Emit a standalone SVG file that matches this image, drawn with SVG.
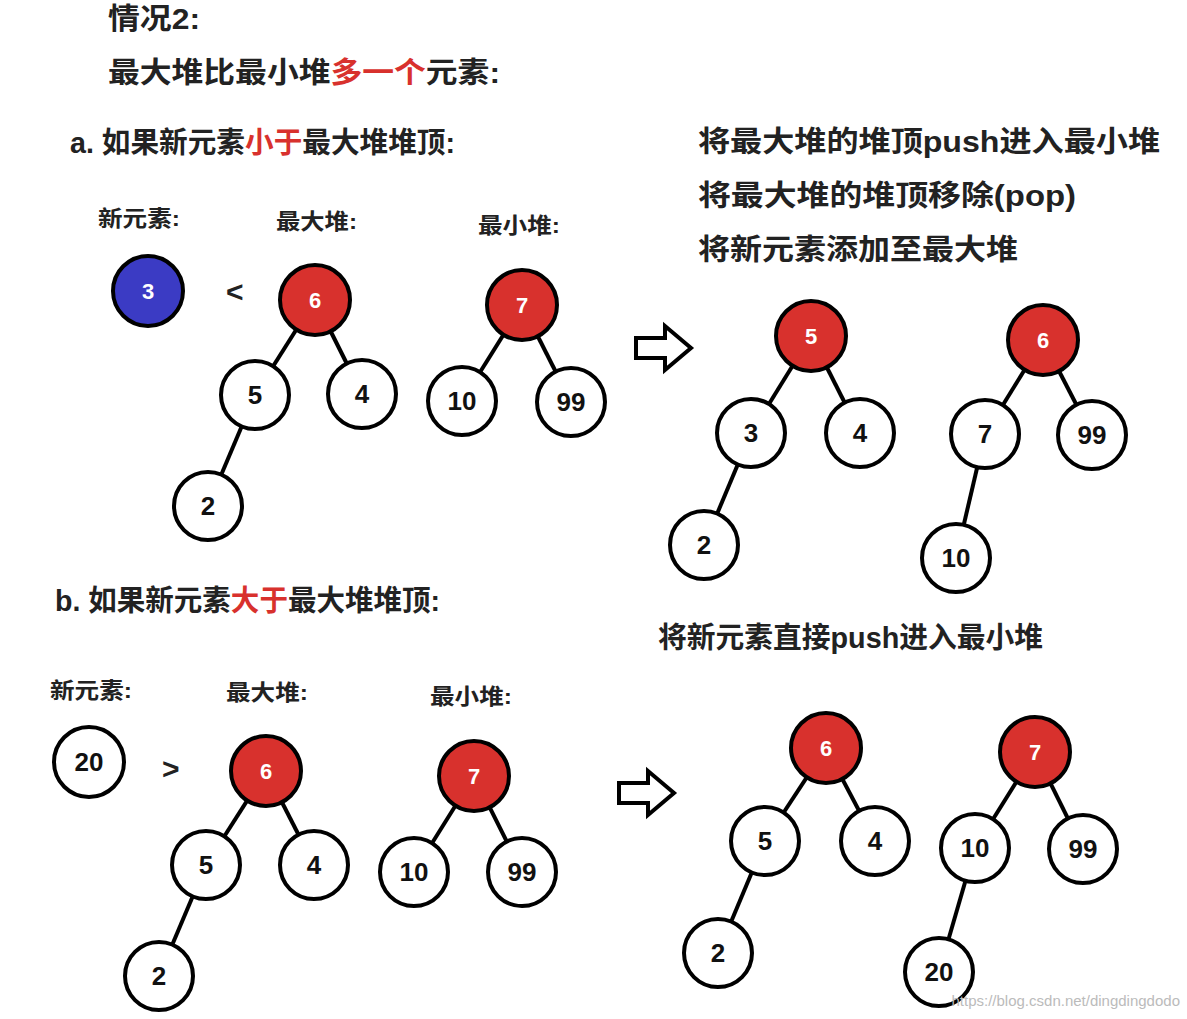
<svg xmlns="http://www.w3.org/2000/svg" width="1187" height="1019" viewBox="0 0 1187 1019">
<style>
.t{font-family:"Liberation Sans","Noto Sans CJK SC",sans-serif;font-weight:bold;fill:#222}
.h{font-size:29px}.s{font-size:22px}
.r{fill:#d8312d}
.n circle{stroke:#000;stroke-width:4;fill:#fff}
.n circle.red{fill:#d8312d}
.n circle.blue{fill:#3b3bc4}
.n text{font-family:"Liberation Sans",sans-serif;font-weight:bold;font-size:26px;text-anchor:middle;fill:#111}
.n text.w{fill:#fff;font-size:22px}
#edges line{stroke:#000;stroke-width:4}
.arr{fill:#fff;stroke:#000;stroke-width:4;stroke-linejoin:miter}
</style>
<rect width="1187" height="1019" fill="#fff"/>
<text class="t h" x="108" y="29" textLength="92" lengthAdjust="spacingAndGlyphs">情况2:</text>
<text class="t h" x="108" y="83" textLength="392" lengthAdjust="spacingAndGlyphs">最大堆比最小堆<tspan class="r">多一个</tspan>元素:</text>
<text class="t h" x="70" y="153" textLength="385" lengthAdjust="spacingAndGlyphs">a. 如果新元素<tspan class="r">小于</tspan>最大堆堆顶:</text>
<text class="t h" x="698" y="152" textLength="462" lengthAdjust="spacingAndGlyphs">将最大堆的堆顶push进入最小堆</text>
<text class="t h" x="698" y="206" textLength="378" lengthAdjust="spacingAndGlyphs">将最大堆的堆顶移除(pop)</text>
<text class="t h" x="698" y="260" textLength="320" lengthAdjust="spacingAndGlyphs">将新元素添加至最大堆</text>
<text class="t s" x="98" y="226" textLength="82" lengthAdjust="spacingAndGlyphs">新元素:</text>
<text class="t s" x="276" y="229" textLength="81" lengthAdjust="spacingAndGlyphs">最大堆:</text>
<text class="t s" x="478" y="233" textLength="82" lengthAdjust="spacingAndGlyphs">最小堆:</text>
<text class="t h" x="55" y="611" textLength="385" lengthAdjust="spacingAndGlyphs">b. 如果新元素<tspan class="r">大于</tspan>最大堆堆顶:</text>
<text class="t h" x="658" y="648" textLength="385" lengthAdjust="spacingAndGlyphs">将新元素直接push进入最小堆</text>
<text class="t s" x="50" y="698" textLength="82" lengthAdjust="spacingAndGlyphs">新元素:</text>
<text class="t s" x="226" y="700" textLength="82" lengthAdjust="spacingAndGlyphs">最大堆:</text>
<text class="t s" x="430" y="704" textLength="82" lengthAdjust="spacingAndGlyphs">最小堆:</text>
<text class="t" x="226" y="302" font-size="30">&lt;</text>
<text class="t" x="162" y="779" font-size="30">&gt;</text>
<path class="arr" d="M636,338 H665 V326 L691,348 L665,370 V358 H636 Z"/>
<path class="arr" d="M619,783 H648 V771 L674,793 L648,815 V803 H619 Z"/>
<g id="edges">
<line x1="315" y1="300" x2="255" y2="395"/><line x1="315" y1="300" x2="362" y2="394"/><line x1="255" y1="395" x2="208" y2="506"/>
<line x1="522" y1="305" x2="462" y2="401"/><line x1="522" y1="305" x2="571" y2="402"/>
<line x1="811" y1="336" x2="751" y2="433"/><line x1="811" y1="336" x2="860" y2="433"/><line x1="751" y1="433" x2="704" y2="545"/>
<line x1="1043" y1="340" x2="985" y2="434"/><line x1="1043" y1="340" x2="1092" y2="435"/><line x1="985" y1="434" x2="956" y2="558"/>
<line x1="266" y1="771" x2="206" y2="865"/><line x1="266" y1="771" x2="314" y2="865"/><line x1="206" y1="865" x2="159" y2="976"/>
<line x1="474" y1="776" x2="414" y2="872"/><line x1="474" y1="776" x2="522" y2="872"/>
<line x1="826" y1="748" x2="765" y2="841"/><line x1="826" y1="748" x2="875" y2="841"/><line x1="765" y1="841" x2="718" y2="953"/>
<line x1="1035" y1="752" x2="975" y2="848"/><line x1="1035" y1="752" x2="1083" y2="849"/><line x1="975" y1="848" x2="939" y2="972"/>
</g>
<g id="a-new" class="n"><circle class="blue" cx="148" cy="291" r="35"/><text class="w" x="148" y="299">3</text></g>
<g id="a-max6" class="n"><circle class="red" cx="315" cy="300" r="35"/><text class="w" x="315" y="308">6</text></g>
<g id="a-max5" class="n"><circle cx="255" cy="395" r="34"/><text x="255" y="404">5</text></g>
<g id="a-max4" class="n"><circle cx="362" cy="394" r="34"/><text x="362" y="403">4</text></g>
<g id="a-max2" class="n"><circle cx="208" cy="506" r="34"/><text x="208" y="515">2</text></g>
<g id="a-min7" class="n"><circle class="red" cx="522" cy="305" r="35"/><text class="w" x="522" y="313">7</text></g>
<g id="a-min10" class="n"><circle cx="462" cy="401" r="34"/><text x="462" y="410">10</text></g>
<g id="a-min99" class="n"><circle cx="571" cy="402" r="34"/><text x="571" y="411">99</text></g>
<g id="ar-max5" class="n"><circle class="red" cx="811" cy="336" r="35"/><text class="w" x="811" y="344">5</text></g>
<g id="ar-max3" class="n"><circle cx="751" cy="433" r="34"/><text x="751" y="442">3</text></g>
<g id="ar-max4" class="n"><circle cx="860" cy="433" r="34"/><text x="860" y="442">4</text></g>
<g id="ar-max2" class="n"><circle cx="704" cy="545" r="34"/><text x="704" y="554">2</text></g>
<g id="ar-min6" class="n"><circle class="red" cx="1043" cy="340" r="35"/><text class="w" x="1043" y="348">6</text></g>
<g id="ar-min7" class="n"><circle cx="985" cy="434" r="34"/><text x="985" y="443">7</text></g>
<g id="ar-min99" class="n"><circle cx="1092" cy="435" r="34"/><text x="1092" y="444">99</text></g>
<g id="ar-min10" class="n"><circle cx="956" cy="558" r="34"/><text x="956" y="567">10</text></g>
<g id="b-new" class="n"><circle cx="89" cy="762" r="35"/><text x="89" y="771">20</text></g>
<g id="b-max6" class="n"><circle class="red" cx="266" cy="771" r="35"/><text class="w" x="266" y="779">6</text></g>
<g id="b-max5" class="n"><circle cx="206" cy="865" r="34"/><text x="206" y="874">5</text></g>
<g id="b-max4" class="n"><circle cx="314" cy="865" r="34"/><text x="314" y="874">4</text></g>
<g id="b-max2" class="n"><circle cx="159" cy="976" r="34"/><text x="159" y="985">2</text></g>
<g id="b-min7" class="n"><circle class="red" cx="474" cy="776" r="35"/><text class="w" x="474" y="784">7</text></g>
<g id="b-min10" class="n"><circle cx="414" cy="872" r="34"/><text x="414" y="881">10</text></g>
<g id="b-min99" class="n"><circle cx="522" cy="872" r="34"/><text x="522" y="881">99</text></g>
<g id="br-max6" class="n"><circle class="red" cx="826" cy="748" r="35"/><text class="w" x="826" y="756">6</text></g>
<g id="br-max5" class="n"><circle cx="765" cy="841" r="34"/><text x="765" y="850">5</text></g>
<g id="br-max4" class="n"><circle cx="875" cy="841" r="34"/><text x="875" y="850">4</text></g>
<g id="br-max2" class="n"><circle cx="718" cy="953" r="34"/><text x="718" y="962">2</text></g>
<g id="br-min7" class="n"><circle class="red" cx="1035" cy="752" r="35"/><text class="w" x="1035" y="760">7</text></g>
<g id="br-min10" class="n"><circle cx="975" cy="848" r="34"/><text x="975" y="857">10</text></g>
<g id="br-min99" class="n"><circle cx="1083" cy="849" r="34"/><text x="1083" y="858">99</text></g>
<g id="br-min20" class="n"><circle cx="939" cy="972" r="34"/><text x="939" y="981">20</text></g>
<text x="1180" y="1006" text-anchor="end" font-family="Liberation Sans,sans-serif" font-size="15" fill="#bbb">https://blog.csdn.net/dingdingdodo</text>
</svg>
